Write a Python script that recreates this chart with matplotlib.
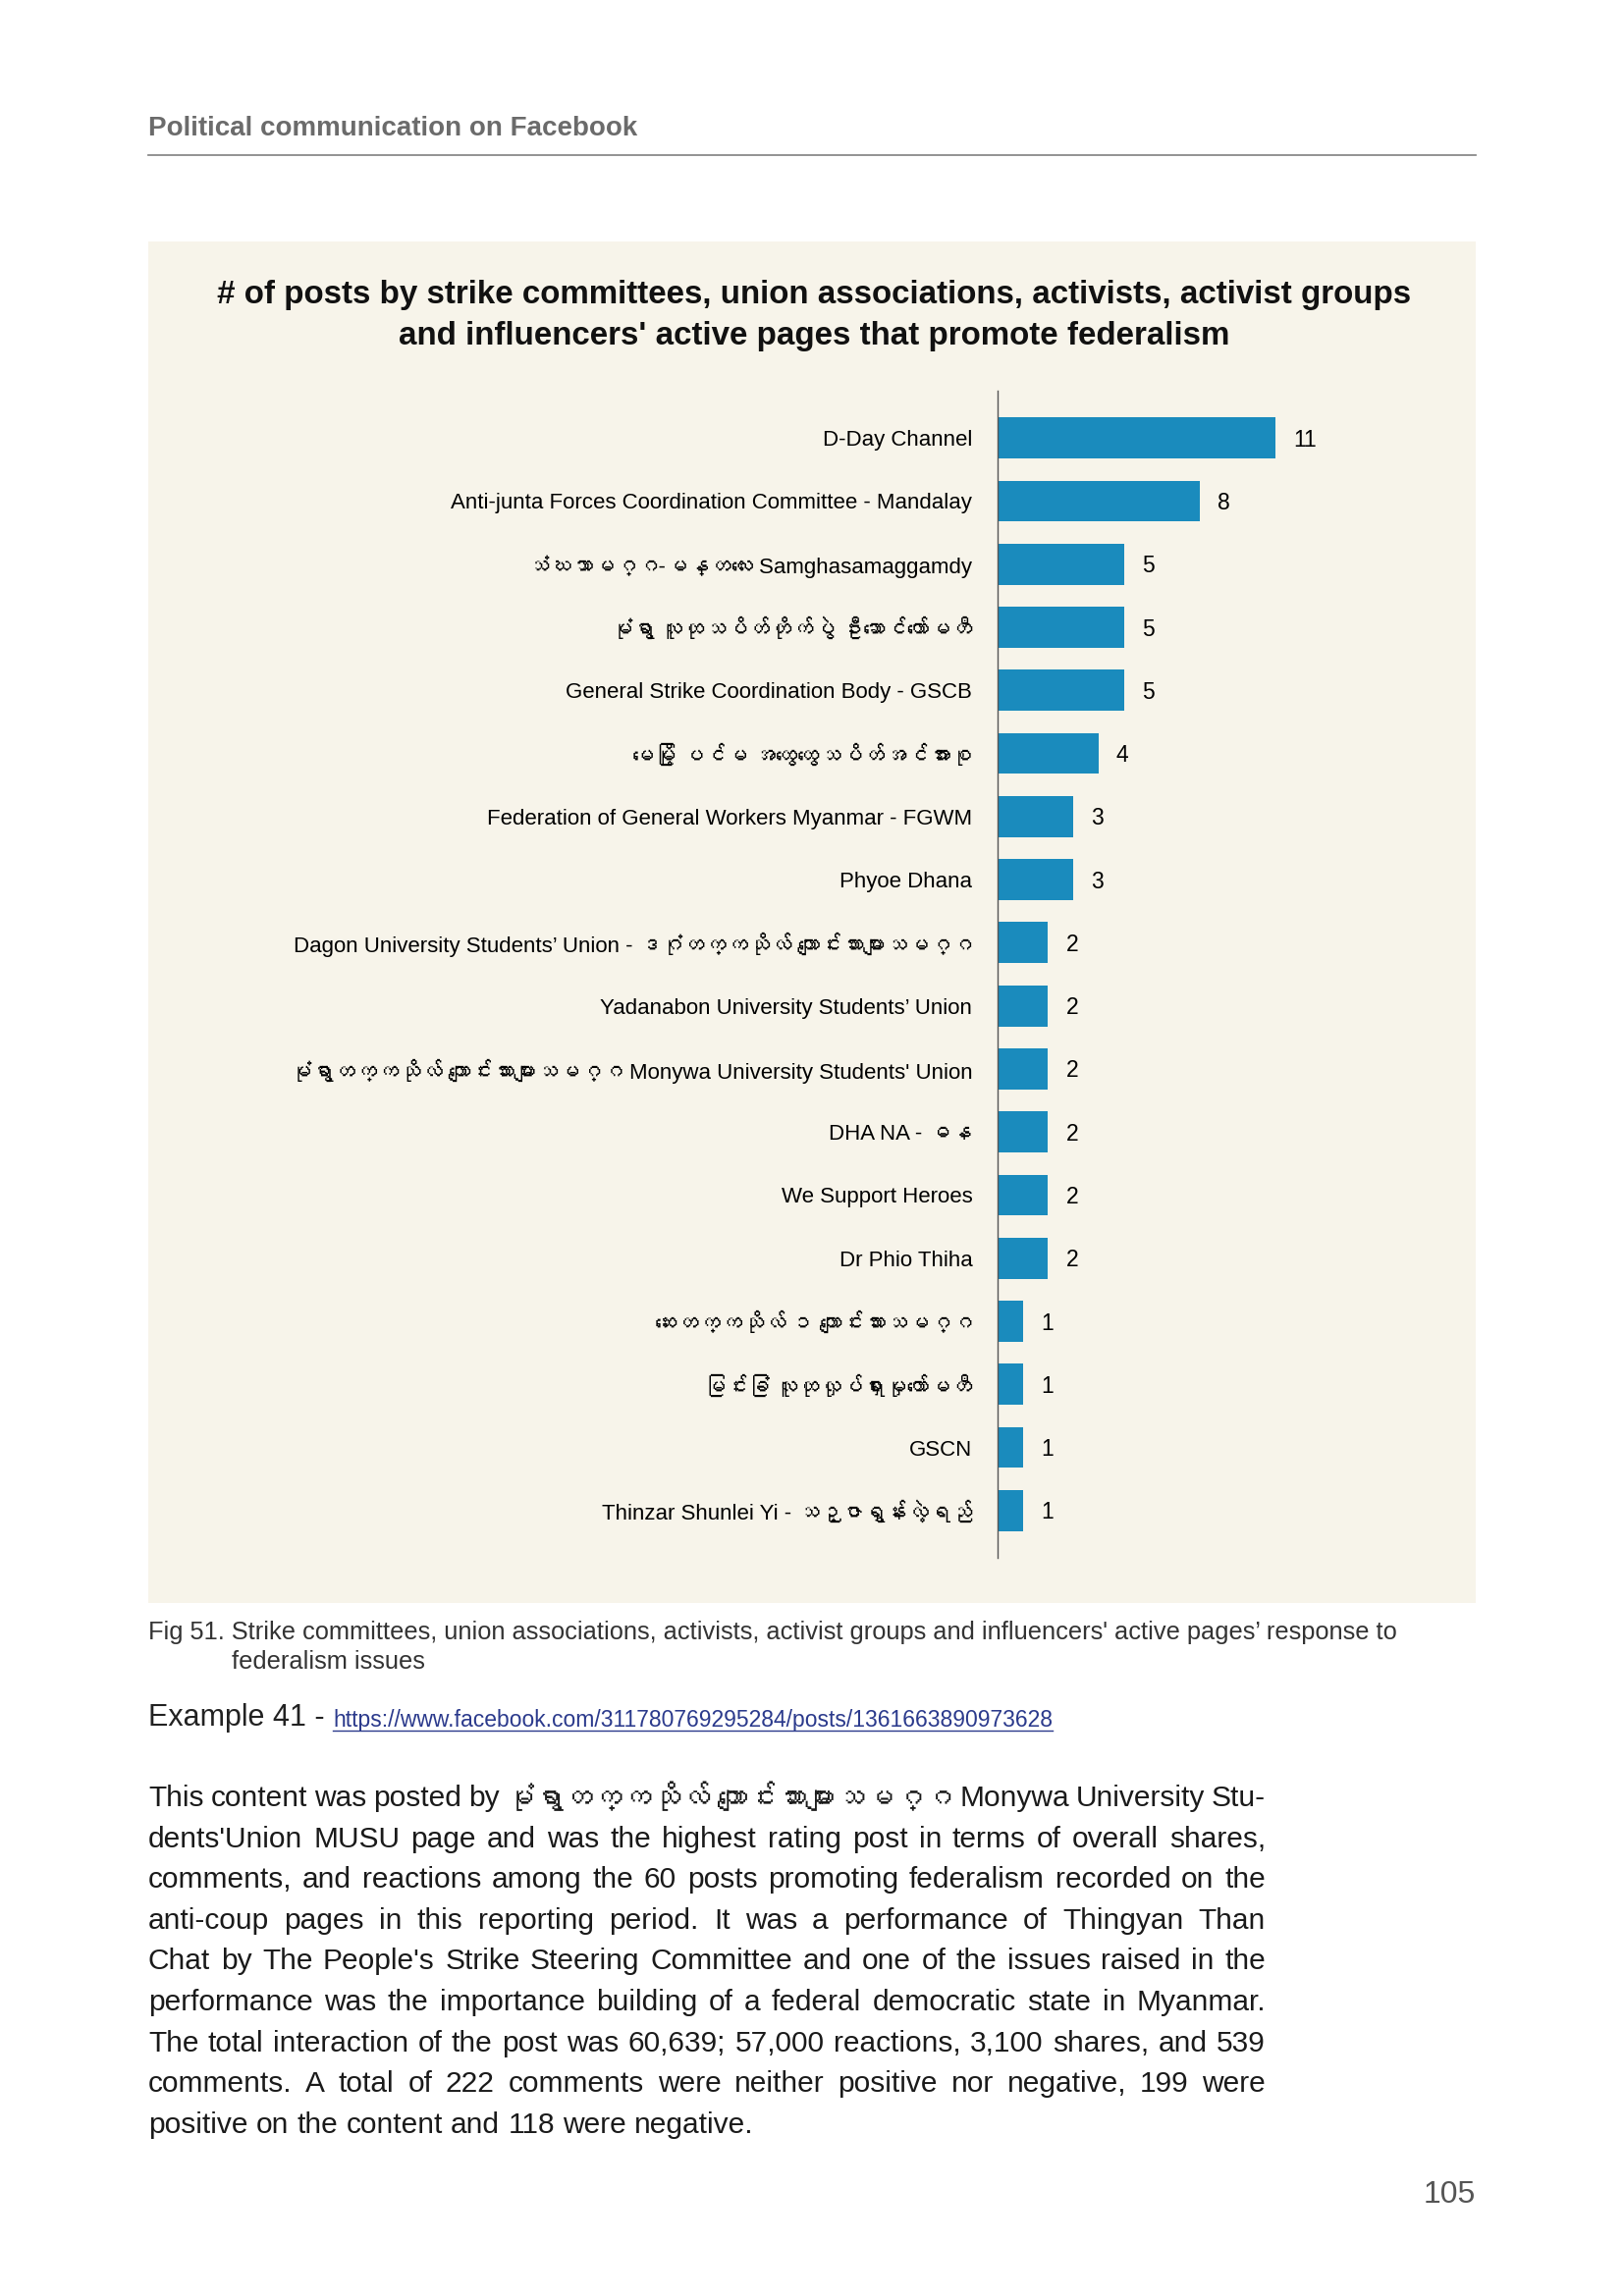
import matplotlib
matplotlib.use("Agg")
import matplotlib.pyplot as plt
from matplotlib.patches import Rectangle
from matplotlib.lines import Line2D
from matplotlib import font_manager
from matplotlib.ft2font import FT2Font

# look for any installed family that can draw Myanmar script
families = ['Liberation Sans', 'DejaVu Sans']
for f in font_manager.fontManager.ttflist:
    try:
        if 0x1000 in FT2Font(f.fname).get_charmap():
            families.append(f.name)
            break
    except Exception:
        pass
plt.rcParams['font.family'] = families

W, H = 1654, 2339

# chart data
pages = [
    "D-Day Channel",
    "Anti-junta Forces Coordination Committee - Mandalay",
    "သံဃသာမဂ္ဂ-မန္တလေး Samghasamaggamdy",
    "မုံရွာ လူထုသပိတ်တိုက်ပွဲ ဦးဆောင်ကော်မတီ",
    "General Strike Coordination Body - GSCB",
    "မေမြို့ ပင်မ အထွေထွေသပိတ်အင်အားစု",
    "Federation of General Workers Myanmar - FGWM",
    "Phyoe Dhana",
    "Dagon University Students’ Union - ဒဂုံတက္ကသိုလ် ကျောင်းသားများသမဂ္ဂ",
    "Yadanabon University Students’ Union",
    "မုံရွာတက္ကသိုလ် ကျောင်းသားများသမဂ္ဂ Monywa University Students' Union",
    "DHA NA - ဓန",
    "We Support Heroes",
    "Dr Phio Thiha",
    "ဆေးတက္ကသိုလ် ၁ ကျောင်းသားသမဂ္ဂ",
    "မြင်းခြံ လူထုလှုပ်ရှားမှုကော်မတီ",
    "GSCN",
    "Thinzar Shunlei Yi - သဉ္ဇာရွှန်းလဲ့ရည်",
]
posts = [11, 8, 5, 5, 5, 4, 3, 3, 2, 2, 2, 2, 2, 2, 1, 1, 1, 1]

title_lines = [
    "# of posts by strike committees, union associations, activists, activist groups",
    "and influencers' active pages that promote federalism",
]

caption_lines = [
    "Fig 51. Strike committees, union associations, activists, activist groups and influencers' active pages’ response to",
    "federalism issues",
]

body_lines = [
    "This content was posted by *မုံရွာတက္ကသိုလ် *ကျောင်းသားများသမဂ္ဂ Monywa University Stu-",
    "dents'Union MUSU page and was the highest rating post in terms of overall shares,",
    "comments, and reactions among the 60 posts promoting federalism recorded on the",
    "anti-coup pages in this reporting period. It was a performance of Thingyan Than",
    "Chat by The People's Strike Steering Committee and one of the issues raised in the",
    "performance was the importance building of a federal democratic state in Myanmar.",
    "The total interaction of the post was 60,639; 57,000 reactions, 3,100 shares, and 539",
    "comments. A total of 222 comments were neither positive nor negative, 199 were",
    "positive on the content and 118 were negative.",
]

fig = plt.figure(figsize=(W / 100, H / 100), dpi=100)
fig.patch.set_facecolor("white")


def fx(px):
    return px / W


def fy(py):
    return 1 - py / H


# page header
fig.text(fx(151), fy(131), "Political communication on Facebook", fontsize=20,
         fontweight="bold", color="#6b6b6b", va="center", ha="left")
fig.add_artist(Line2D([fx(151), fx(1503)], [fy(158), fy(158)], color="#8a8a8a", lw=1.3))

# chart panel
fig.patches.append(Rectangle((fx(151), fy(1633)), fx(1503) - fx(151), fy(246) - fy(1633),
                             transform=fig.transFigure, facecolor="#f7f4ea", edgecolor="none", zorder=-5))

fig.text(fx(829), fy(300), title_lines[0], fontsize=23.9, fontweight="bold",
         color="#111111", ha="center", va="center")
fig.text(fx(829), fy(342), title_lines[1], fontsize=23.9, fontweight="bold",
         color="#111111", ha="center", va="center")

# bar axes: x from 1016px, 25.73 px per post; rows 64.3 px apart
unit = 25.73
x_left, x_max = 1016, 12
top, bottom = 398, 1587
ax = fig.add_axes([fx(x_left), fy(bottom), fx(x_left + unit * x_max) - fx(x_left), fy(top) - fy(bottom)])
ax.set_facecolor("none")
ypos = list(range(len(posts)))
ax.barh(ypos, posts, height=0.65, color="#1a8bbd")
ax.set_xlim(0, x_max)
ax.set_ylim(len(posts) - 0.25, -0.75)
for s in ["top", "right", "bottom"]:
    ax.spines[s].set_visible(False)
ax.spines["left"].set_color("#555555")
ax.spines["left"].set_linewidth(1)
ax.set_xticks([])
ax.set_yticks(ypos)
ax.set_yticklabels(pages, fontsize=16, color="#000000")
ax.tick_params(axis="y", length=0, pad=18.5)
for i, v in enumerate(posts):
    ax.annotate(str(v), (v, i), xytext=(13, -1.5), textcoords="offset points",
                va="center", ha="left", fontsize=16.5, color="#000000")

# caption
fig.text(fx(151), fy(1663), caption_lines[0], fontsize=18.3, color="#333333", va="center")
fig.text(fx(236), fy(1693), caption_lines[1], fontsize=18.3, color="#333333", va="center")

# example link
ex = fig.text(fx(151), fy(1750), "Example 41 - ", fontsize=22, color="#222222", va="center")
renderer = fig.canvas.get_renderer()
bb = ex.get_window_extent(renderer)
link = fig.text(bb.x1 / W, fy(1752), "https://www.facebook.com/311780769295284/posts/1361663890973628",
                fontsize=16.5, color="#2b3a8c", va="center")
lb = link.get_window_extent(renderer)
fig.add_artist(Line2D([lb.x0 / W, lb.x1 / W], [fy(1763), fy(1763)], color="#2b3a8c", lw=1))

# body text, justified between 151 and 1289 px
x0, x1 = 151, 1289
y0, dy = 1832, 41.6
fs = 21.5
ta = fig.text(0, 0, "a a", fontsize=fs)
tb = fig.text(0, 0, "aa", fontsize=fs)
space = ta.get_window_extent(renderer).width - tb.get_window_extent(renderer).width
ta.remove()
tb.remove()
for k, line in enumerate(body_lines):
    words = line.split(" ")
    arts = []
    for w in words:
        bold = w.startswith("*")
        t = fig.text(0, fy(y0 + k * dy), w.lstrip("*"), fontsize=fs, color="#1a1a1a",
                     fontweight="bold" if bold else "normal", va="center", ha="left")
        arts.append(t)
    widths = [a.get_window_extent(renderer).width for a in arts]
    if k < len(body_lines) - 1:
        gap = (x1 - x0 - sum(widths)) / (len(words) - 1)
        gap = max(gap, space * 0.5)
    else:
        gap = space
    x = x0
    for a, wd in zip(arts, widths):
        a.set_x(x / W)
        x += wd + gap

# page number
fig.text(fx(1503), fy(2236), "105", fontsize=23, color="#555555", ha="right", va="center")

fig.savefig("out.png", dpi=100, facecolor="white")
